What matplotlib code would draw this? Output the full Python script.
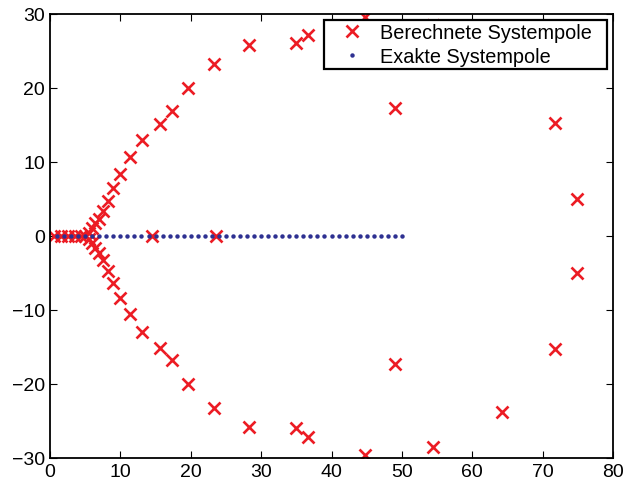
import matplotlib
matplotlib.use("Agg")
import matplotlib.pyplot as plt

plt.rcParams['font.family'] = ['Liberation Sans', 'DejaVu Sans']

# Computed system poles (upper half, mirrored to the lower half)
calc_upper_re = [5.6, 6.0, 6.4, 6.9, 7.5, 8.2, 9.0, 10.0, 11.3, 13.1, 15.7, 17.3,
                 19.6, 23.3, 28.3, 35.0, 36.7, 44.7, 49.0, 54.4, 64.2, 71.7, 74.9]
calc_upper_im = [0.4, 1.0, 1.7, 2.3, 3.3, 4.7, 6.4, 8.4, 10.6, 13.0, 15.1, 16.8,
                 20.0, 23.2, 25.8, 26.0, 27.1, 29.6, 17.3, 28.5, 23.8, 15.3, 5.0]
# Computed poles on the real axis
calc_real_re = [0.6, 1.5, 2.5, 3.5, 4.4, 5.0, 14.5, 23.6]

# Exact system poles (all on the real axis)
exact_re = [1, 2, 3, 4, 5, 6, 7, 8, 9, 10, 11, 12, 13, 14, 15, 16, 17, 18, 19, 20,
            21, 22, 23, 24, 25, 26, 27, 28, 29, 30, 31, 32, 33, 34, 35, 36, 37, 38,
            39, 40, 41, 42, 43, 44, 45, 46, 47, 48, 49, 50]
exact_im = [0] * len(exact_re)

calc_re = calc_upper_re + calc_upper_re + calc_real_re
calc_im = calc_upper_im + [-v for v in calc_upper_im] + [0] * len(calc_real_re)

fig = plt.figure(figsize=(6.38, 4.85), dpi=100)
ax = fig.add_axes([50/638, 26/485, 563/638, 444.3/485])

red = '#EC1C24'
blue = '#2E3192'
ax.plot(calc_re, calc_im, linestyle='none', marker='x', color=red,
        markersize=8, markeredgewidth=1.9, label='Berechnete Systempole')
ax.plot(exact_re, exact_im, linestyle='none', marker='o', color=blue,
        markersize=3.2, markeredgewidth=0, label='Exakte Systempole')

ax.set_xlim(0, 80)
ax.set_ylim(-30, 30)
ax.set_xticks([0, 10, 20, 30, 40, 50, 60, 70, 80])
ax.set_yticks([-30, -20, -10, 0, 10, 20, 30])
ax.tick_params(direction='in', top=True, right=True, length=5, width=0.8,
               labelsize=14, pad=3.5)
for s in ax.spines.values():
    s.set_linewidth(1.3)

leg = ax.legend(loc='upper right', bbox_to_anchor=(0.4867, 0.0, 0.5021, 0.9865),
                mode='expand', borderaxespad=0, fontsize=14.3, fancybox=False,
                framealpha=1, edgecolor='black', handlelength=2.45,
                handletextpad=0.2, borderpad=0.17, labelspacing=0.25)
leg.get_frame().set_linewidth(1.6)

fig.savefig('out.png', dpi=100)
